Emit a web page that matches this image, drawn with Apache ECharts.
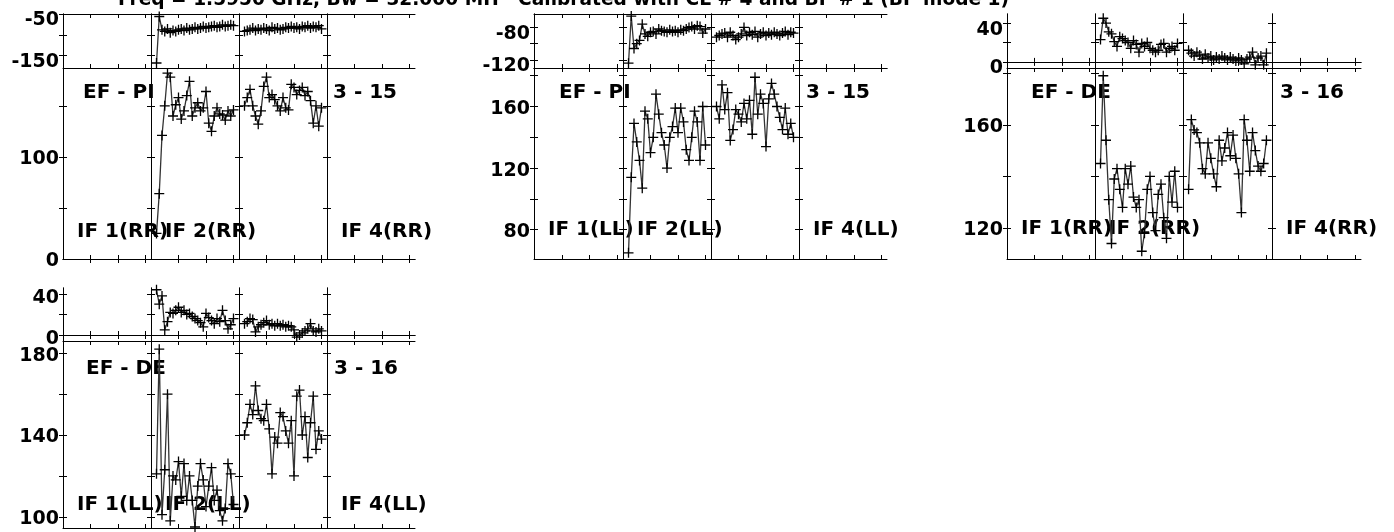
<!DOCTYPE html>
<html><head><meta charset="utf-8">
<script src="https://cdn.jsdelivr.net/npm/echarts@6/dist/echarts.min.js"></script>
<style>html,body{margin:0;padding:0;background:#fff}#c{width:1394px;height:532px}</style>
</head><body><div id="c"></div>
<script>
// ---------------- data ----------------
const TITLE = "Freq = 1.5950 GHz, Bw = 32.000 MH   Calibrated with CL # 4 and BP # 1 (BP mode 1)";
const CHANNELS = [2,3,4,5,6,7,8,9,10,11,12,13,14,15,16,17,18,19,20,21,22,23,24,25,26,27,28,29,30];
const X_TICKS = [10,20,30];

// Panel 1 : EF - PI, RR, scan 3 - 15
const P1_IF2_PHASE = [-168,-56,-88,-92,-86,-95,-90,-92,-88,-86,-90,-84,-88,-86,-82,-86,-84,-80,-84,-82,-80,-78,-82,-80,-76,-80,-78,-76,-78];
const P1_IF2_AMP   = [25,64,121,150,182,178,140,151,158,137,145,160,174,140,148,153,145,148,164,133,125,140,148,142,141,136,145,140,146];
const P1_IF3_PHASE = [-92,-90,-88,-84,-90,-86,-88,-84,-86,-90,-82,-86,-84,-88,-86,-82,-84,-80,-84,-82,-86,-80,-82,-78,-84,-80,-82,-78,-86];
const P1_IF3_AMP   = [150,158,166,150,140,132,145,169,178,158,161,156,150,145,158,148,146,171,168,161,165,168,160,164,155,133,150,130,148];

// Panel 2 : EF - PI, LL, scan 3 - 15
const P2_IF2_PHASE = [-124,-66,-106,-100,-96,-76,-88,-91,-86,-85,-88,-82,-84,-85,-86,-83,-85,-84,-86,-83,-84,-82,-80,-79,-82,-78,-79,-87,-82];
const P2_IF2_AMP   = [65,114,149,137,125,107,157,152,130,140,168,155,143,135,120,140,147,159,143,159,150,132,125,140,157,150,125,160,135];
const P2_IF3_PHASE = [-92,-90,-88,-87,-92,-86,-90,-95,-92,-88,-80,-90,-86,-89,-85,-92,-88,-86,-90,-87,-89,-86,-88,-90,-87,-85,-89,-86,-87];
const P2_IF3_AMP   = [160,152,174,158,169,138,145,158,155,150,162,152,164,142,179,155,168,162,134,165,175,168,160,153,145,159,142,149,140];

// Panel 3 : EF - DE, RR, scan 3 - 16
const P3_IF2_PHASE = [23,45,40,31,29,21,16,26,24,22,20,14,22,18,10,19,16,20,14,12,10,12,18,19,10,14,16,12,19];
const P3_IF2_AMP   = [145,179,154,131,114,139,143,135,128,143,137,144,132,128,131,111,118,135,140,126,119,133,137,124,116,140,130,142,128];
const P3_IF3_PHASE = [12,9,6,10,7,3,8,4,6,2,5,3,6,4,2,5,3,1,4,2,-2,3,5,10,-3,4,6,-3,9];
const P3_IF3_AMP   = [135,162,158,157,153,143,141,153,147,141,136,154,146,151,157,148,156,147,141,126,162,154,142,157,150,144,142,145,154];

// Panel 4 : EF - DE, LL, scan 3 - 16
const P4_IF2_PHASE = [44,30,38,5,13,22,21,24,27,22,24,20,21,18,16,14,12,8,21,17,14,11,16,13,24,14,6,10,16];
const P4_IF2_AMP   = [121,182,101,123,160,98,120,118,127,110,126,108,120,108,95,115,126,118,105,115,124,108,113,103,98,104,126,121,106];
const P4_IF3_PHASE = [11,13,16,15,3,8,10,12,14,10,11,9,11,9,10,8,9,8,5,-2,0,2,4,6,11,4,3,6,4];
const P4_IF3_AMP   = [140,146,155,150,164,152,148,147,155,143,121,139,136,151,149,142,136,147,120,159,162,140,149,129,146,159,133,142,138];

const PANELS = [
  {base:"EF - PI", scan:"3 - 15", pol:"RR",
   phase:{min:-180,max:-50,ticks:[-150,-100,-50],labels:[-150,-50]},
   amp:{min:0,max:187,ticks:[50,100,150],labels:[0,100]},
   zero:false, ifs:{2:[P1_IF2_PHASE,P1_IF2_AMP],3:[P1_IF3_PHASE,P1_IF3_AMP]}},
  {base:"EF - PI", scan:"3 - 15", pol:"LL",
   phase:{min:-130,max:-63.5,ticks:[-120,-100,-80],labels:[-120,-80]},
   amp:{min:61,max:185,ticks:[80,100,120,140,160,180],labels:[80,120,160]},
   zero:false, ifs:{2:[P2_IF2_PHASE,P2_IF2_AMP],3:[P2_IF3_PHASE,P2_IF3_AMP]}},
  {base:"EF - DE", scan:"3 - 16", pol:"RR",
   phase:{min:-6.3,max:49.4,ticks:[0,20,40],labels:[0,40]},
   amp:{min:108,max:182,ticks:[120,140,160,180],labels:[120,160]},
   zero:true, ifs:{2:[P3_IF2_PHASE,P3_IF2_AMP],3:[P3_IF3_PHASE,P3_IF3_AMP]}},
  {base:"EF - DE", scan:"3 - 16", pol:"LL",
   phase:{min:-5.8,max:45.7,ticks:[0,20,40],labels:[0,40]},
   amp:{min:94.5,max:186,ticks:[100,120,140,160,180],labels:[100,140,180]},
   zero:true, ifs:{2:[P4_IF2_PHASE,P4_IF2_AMP],3:[P4_IF3_PHASE,P4_IF3_AMP]}}
];
const IF_LABEL_SHOWN = [1,2,4];

// ---------------- layout ----------------
const LAYOUT = [
  {x:[63,151,239,327,415], top:14, sep:68, bottom:259, baseDX:20, baseDY:25, scanDX:6, ifDY:27, phL:13},
  {x:[534,623,711,799,887], top:14, sep:68, bottom:259, baseDX:25, baseDY:25, scanDX:7, ifDY:29, phL:13},
  {x:[1007,1095,1183,1272,1361], top:14, sep:68, bottom:259, baseDX:24, baseDY:25, scanDX:8, ifDY:30, phL:13},
  {x:[63,151,239,327,415], top:288, sep:341, bottom:528, baseDX:23, baseDY:28, scanDX:7, ifDY:23, phL:9}
];
const FONT = "DejaVu Sans";
const PLUS = 'path://M0,5L10,5M5,0L5,10';

const grid=[], xAxis=[], yAxis=[], series=[], graphic=[];
function addGrid(l,w,t,h,yr,showLabels,lh){
  const gi = grid.length;
  grid.push({left:l, width:w, top:t, height:h, containLabel:false});
  const line = {show:true, lineStyle:{color:'#000', width:1}};
  const xb = {gridIndex:gi, type:'value', min:0, max:32, axisLine:line, splitLine:{show:false},
    axisTick:{show:true, inside:true, length:4, customValues:X_TICKS, lineStyle:{color:'#000'}}, axisLabel:{show:false}};
  const xi = xAxis.length;
  xAxis.push(Object.assign({position:'bottom'}, xb));
  xAxis.push(Object.assign({position:'top'}, xb));
  const yb = {gridIndex:gi, type:'value', min:yr.min, max:yr.max, axisLine:line, splitLine:{show:false},
    axisTick:{show:true, inside:true, length:4, customValues:yr.ticks, lineStyle:{color:'#000'}}};
  const yi = yAxis.length;
  yAxis.push(Object.assign({position:'left', axisLabel: showLabels ? {show:true, customValues:yr.labels, margin:4,
      fontFamily:FONT, fontWeight:'bold', fontSize:19, color:'#000', verticalAlign:'top', lineHeight:lh} : {show:false}}, yb));
  yAxis.push(Object.assign({position:'right', axisLabel:{show:false}}, yb));
  return {xi, yi};
}
const markZero = {silent:true, symbol:['none','none'], label:{show:false},
  lineStyle:{color:'#000', width:1, type:'solid'}, data:[{yAxis:0}]};

PANELS.forEach((p, pi) => {
  const L = LAYOUT[pi];
  for (let k=0;k<4;k++){
    const l = L.x[k], w = L.x[k+1]-L.x[k];
    const ph = addGrid(l, w, L.top, L.sep-L.top, p.phase, k===0, L.phL);
    const am = addGrid(l, w, L.sep, L.bottom-L.sep, p.amp, k===0, 5);
    const d = p.ifs[k+1];
    const common = {type:'line', symbol:PLUS, symbolSize:10, showSymbol:true, animation:false, silent:true,
      lineStyle:{color:'#333', width:1.3}, itemStyle:{color:'#000', borderColor:'#000', borderWidth:1.3},
      emphasis:{disabled:true}};
    const sPh = Object.assign({}, common, {xAxisIndex:ph.xi, yAxisIndex:ph.yi,
      data: d ? CHANNELS.map((c,i)=>[c, d[0][i]]) : []});
    if (p.zero) sPh.markLine = markZero;
    if (d || p.zero) series.push(sPh);
    if (d) series.push(Object.assign({}, common, {xAxisIndex:am.xi, yAxisIndex:am.yi,
      data: CHANNELS.map((c,i)=>[c, d[1][i]])}));
  }
  const ts = {fontFamily:FONT, fontWeight:'bold', fontSize:20, fill:'#000', textVerticalAlign:'middle'};
  graphic.push({type:'text', left:L.x[0]+L.baseDX, top:L.sep+L.baseDY-10, style:Object.assign({text:p.base}, ts)});
  graphic.push({type:'text', left:L.x[3]+L.scanDX, top:L.sep+L.baseDY-10, style:Object.assign({text:p.scan}, ts)});
  IF_LABEL_SHOWN.forEach(n => {
    graphic.push({type:'text', left:L.x[n-1]+14, top:L.bottom-L.ifDY-10, style:Object.assign({text:'IF '+n+'('+p.pol+')'}, ts)});
  });
});
graphic.push({type:'text', left:118, top:-9, style:{text:TITLE, fontFamily:FONT, fontWeight:'bold', fontSize:18.6, fill:'#000'}});

const chart = echarts.init(document.getElementById('c'), null, {renderer:'canvas'});
chart.setOption({animation:false, backgroundColor:'#fff', grid, xAxis, yAxis, series, graphic});
</script></body></html>
